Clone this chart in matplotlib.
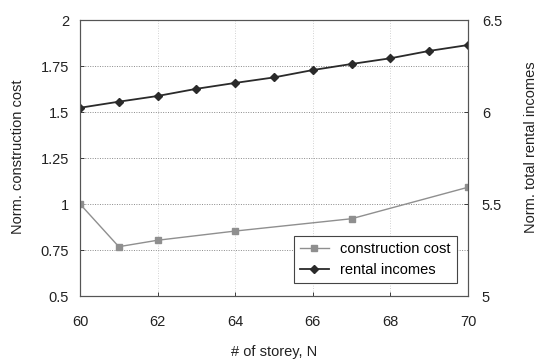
import matplotlib
matplotlib.use("Agg")
import matplotlib.pyplot as plt

plt.rcParams['font.family'] = ['Liberation Sans', 'DejaVu Sans']

# storeys
storeys_cost = [60, 61, 62, 64, 67, 70]
construction_cost = [1.0, 0.768, 0.803, 0.853, 0.920, 1.091]

storeys_rent = [60, 61, 62, 63, 64, 65, 66, 67, 68, 69, 70]
rental_incomes = [6.023, 6.056, 6.087, 6.126, 6.158, 6.188, 6.228, 6.261, 6.292, 6.332, 6.364]

x_ticks = [60, 62, 64, 66, 68, 70]
left_ticks = [0.5, 0.75, 1.0, 1.25, 1.5, 1.75, 2.0]
left_labels = ['0.5', '0.75', '1', '1.25', '1.5', '1.75', '2']
right_ticks = [5.0, 5.5, 6.0, 6.5]
right_labels = ['5', '5.5', '6', '6.5']

fig = plt.figure(figsize=(5.41, 3.62), dpi=100)
ax = fig.add_axes([80 / 541, 1 - 296 / 362, 388 / 541, 276 / 362])
ax2 = ax.twinx()

fs = 10.5
ax.set_xlim(60, 70)
ax.set_ylim(0.5, 2.0)
ax2.set_ylim(5.0, 6.5)

ax.set_xticks(x_ticks)
ax.set_yticks(left_ticks)
ax.set_yticklabels(left_labels)
ax2.set_yticks(right_ticks)
ax2.set_yticklabels(right_labels)

for a in (ax, ax2):
    a.tick_params(direction='in', length=3, labelsize=fs, colors='#222222', width=0.6)
    for s in a.spines.values():
        s.set_color('#555555')
        s.set_linewidth(0.8)
ax.tick_params(axis='x', pad=14)
ax.tick_params(axis='y', pad=8)
ax2.tick_params(axis='y', pad=10)

ax.yaxis.grid(True, linestyle=(0, (1, 1.5)), color='#8a8a8a', linewidth=0.7)
ax.xaxis.grid(True, linestyle=(0, (1, 2)), color='#c4c4c4', linewidth=0.6)
ax.set_axisbelow(True)

l1, = ax.plot(storeys_cost, construction_cost, color='#8f8f8f', marker='s', markersize=4.5,
              linewidth=1.0, label='construction cost')
l2, = ax2.plot(storeys_rent, rental_incomes, color='#2a2a2a', marker='D', markersize=3.8,
               linewidth=1.3, label='rental incomes')

# axis titles placed in figure coordinates
W, H = 541, 362
fig.text(274 / W, 1 - 352 / H, '# of storey, N', fontsize=fs, color='#222222',
         ha='center', va='center')
fig.text(18 / W, 1 - 157 / H, 'Norm. construction cost', fontsize=fs, color='#222222',
         ha='center', va='center', rotation=90)
fig.text(531 / W, 1 - 147 / H, 'Norm. total rental incomes', fontsize=fs, color='#222222',
         ha='center', va='center', rotation=90)

leg = ax2.legend(handles=[l1, l2], loc='lower right', fontsize=fs, fancybox=False,
                 framealpha=1, edgecolor='#444444', borderpad=0.4, handlelength=2.0,
                 bbox_to_anchor=(0.99, 0.02))
leg.get_frame().set_linewidth(0.8)

fig.savefig('out.png', dpi=100)
